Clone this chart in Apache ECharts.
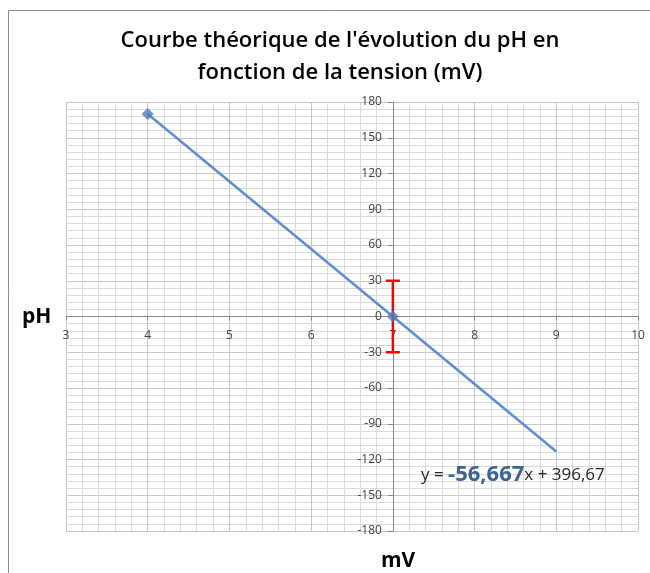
<!DOCTYPE html>
<html>
<head>
<meta charset="utf-8">
<script src="https://cdn.jsdelivr.net/npm/echarts@6/dist/echarts.min.js"></script>
<style>
  html, body { margin: 0; padding: 0; background: #ffffff; }
  #chart { width: 650px; height: 573px; }
</style>
</head>
<body>
<div id="chart"></div>
<script>
// data
const xTicks = [3, 4, 5, 6, 7, 8, 9, 10];
const yTicks = [-180, -150, -120, -90, -60, -30, 0, 30, 60, 90, 120, 150, 180];
const measured = [[4, 170], [7, 0]];
const trendLine = [[4, 170], [9, -113.3]];
const errorBars = [[7, -30, 30]];
const yCrossAt = 7; // vertical axis crosses at x = 7
const xCrossAt = 0; // horizontal axis crosses at y = 0

const font = "'Open Sans', sans-serif";
const gridBox = { left: 66, right: 12, top: 102, bottom: 42 };
const plotWidth = 650 - gridBox.left - gridBox.right;
const plotHeight = 573 - gridBox.top - gridBox.bottom;
const xMin = xTicks[0];
const xMax = xTicks[xTicks.length - 1];
const yMin = yTicks[0];
const yMax = yTicks[yTicks.length - 1];
// shift each axis (line, ticks, labels) to where it crosses the other one
const yOffset = -plotWidth * (yCrossAt - xMin) / (xMax - xMin);
const xOffset = -plotHeight * (xCrossAt - yMin) / (yMax - yMin);

const chart = echarts.init(document.getElementById("chart"));

const option = {
  animation: false,
  backgroundColor: "#ffffff",
  title: [
    {
      text: "Courbe théorique de l'évolution du pH en\nfonction de la tension (mV)",
      left: 335,
      top: 20,
      textAlign: "center",
      textStyle: { fontFamily: font, fontSize: 22, fontWeight: 600, color: "#000000", lineHeight: 32 },
    },
    {
      text: "pH",
      left: 17,
      top: 302,
      textStyle: { fontFamily: font, fontSize: 21, fontWeight: "bold", color: "#000000" },
    },
    {
      text: "mV",
      left: 376,
      top: 546,
      textStyle: { fontFamily: font, fontSize: 21, fontWeight: "bold", color: "#000000" },
    },
  ],
  graphic: [
    {
      type: "rect",
      shape: { x: 8.5, y: 10.5, width: 700, height: 600 },
      style: { fill: "none", stroke: "#8c8c8c", lineWidth: 1 },
      silent: true,
    },
    {
      type: "text",
      left: 421,
      top: 464,
      z: 100,
      style: {
        text: "{a|y = }{b|-56,667}{a|x + 396,67}",
        rich: {
          a: { fontFamily: font, fontSize: 17, fill: "#262626" },
          b: { fontFamily: font, fontSize: 22, fontWeight: "bold", fill: "#3a6593" },
        },
      },
    },
  ],
  grid: gridBox,
  xAxis: {
    type: "value",
    min: xMin,
    max: xMax,
    interval: 1,
    position: "bottom",
    offset: xOffset,
    axisLine: { show: true, onZero: false, lineStyle: { color: "#868686", width: 1 } },
    axisTick: { show: true, inside: false, length: 4, lineStyle: { color: "#868686" } },
    axisLabel: { fontFamily: font, fontSize: 12, color: "#404040", margin: 13, showMinLabel: true, showMaxLabel: true },
    splitLine: { show: true, lineStyle: { color: "#c6c6c6", width: 1 } },
    minorTick: { show: false, splitNumber: 5 },
    minorSplitLine: { show: true, lineStyle: { color: "#dadada", width: 1 } },
  },
  yAxis: {
    type: "value",
    min: yMin,
    max: yMax,
    interval: 30,
    position: "left",
    offset: yOffset,
    axisLine: { show: true, onZero: false, lineStyle: { color: "#868686", width: 1 } },
    axisTick: { show: true, inside: false, length: 5, lineStyle: { color: "#868686" } },
    axisLabel: { fontFamily: font, fontSize: 12, color: "#404040", margin: 11 },
    splitLine: { show: true, lineStyle: { color: "#c6c6c6", width: 1 } },
    minorTick: { show: false, splitNumber: 5 },
    minorSplitLine: { show: true, lineStyle: { color: "#dadada", width: 1 } },
  },
  series: [
    {
      name: "Tendance",
      type: "line",
      data: trendLine,
      showSymbol: false,
      lineStyle: { color: "#5b8fd2", width: 2.5 },
      z: 3,
    },
    {
      name: "Erreur",
      type: "custom",
      data: errorBars,
      encode: { x: 0, y: [1, 2] },
      z: 4,
      renderItem: function (params, api) {
        const x = api.value(0);
        const lo = api.coord([x, api.value(1)]);
        const hi = api.coord([x, api.value(2)]);
        const cap = 7;
        const style = { stroke: "#ff0000", lineWidth: 2.5 };
        return {
          type: "group",
          children: [
            { type: "line", shape: { x1: lo[0], y1: lo[1], x2: hi[0], y2: hi[1] }, style: style },
            { type: "line", shape: { x1: lo[0] - cap, y1: lo[1], x2: lo[0] + cap, y2: lo[1] }, style: style },
            { type: "line", shape: { x1: hi[0] - cap, y1: hi[1], x2: hi[0] + cap, y2: hi[1] }, style: style },
          ],
        };
      },
    },
    {
      name: "Mesures",
      type: "scatter",
      data: measured,
      symbol: "diamond",
      symbolSize: 12,
      itemStyle: { color: "#4a7ebb" },
      z: 5,
    },
  ],
};

chart.setOption(option);
</script>
</body>
</html>
